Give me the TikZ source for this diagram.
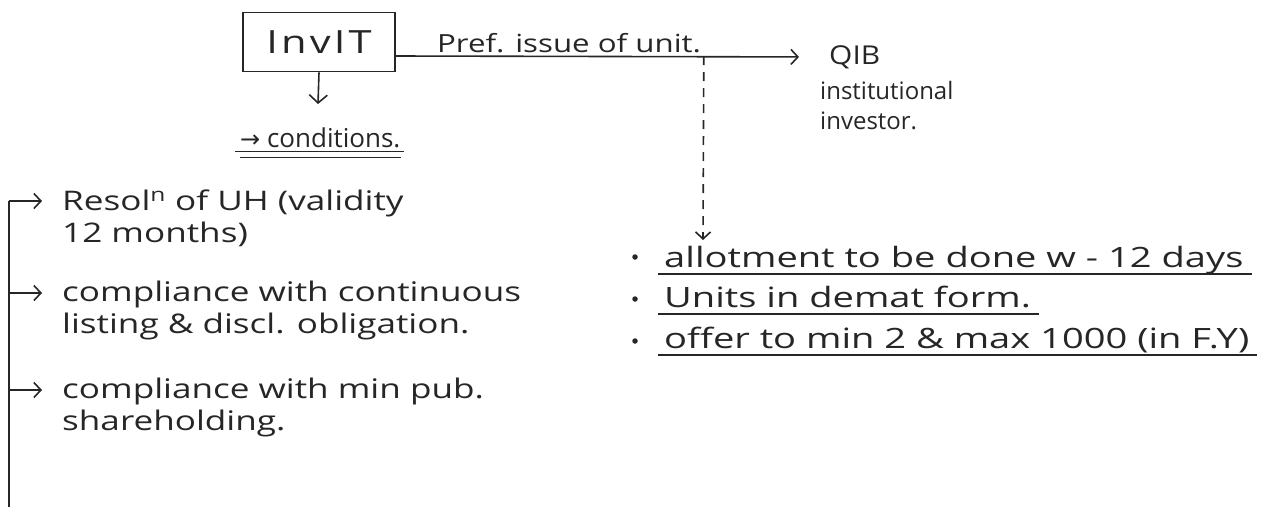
\documentclass[tikz,border=0pt]{standalone}
\usepackage{fontspec}
\setmainfont{Open Sans}
\newfontfamily\symfont{DejaVu Sans}
\newfontfamily\listface[FakeStretch=1.3]{Open Sans}
\newfontfamily\termface[FakeStretch=1.36]{Open Sans}
\newfontfamily\prefface[FakeStretch=1.25]{Open Sans}
\newfontfamily\boxface[FakeStretch=1.3,LetterSpace=10]{Open Sans}
\newfontfamily\qibface[FakeStretch=1.15]{Open Sans}
\usetikzlibrary{arrows.meta}
\begin{document}
\begin{tikzpicture}[x=1pt,y=-1pt,
  ink/.style={line width=1.6pt, draw=black!85},
  arr/.style={ink, -{Straight Barb[length=7pt,width=15pt,line width=1.6pt]}},
  hand/.style={text=black!85, inner sep=0pt},
  listtext/.style={hand, font=\listface\fontsize{27}{32}\selectfont, align=left, anchor=north west},
  termtext/.style={hand, font=\termface\fontsize{28}{32}\selectfont, anchor=base west},
  uline/.style={line width=1.4pt, draw=black!85},
  dot/.style={circle, fill=black!85, inner sep=0pt, minimum size=5.5pt}]

\useasboundingbox (0,0) rectangle (1280,507);

% issuer box and the preferential issue to QIBs
\node[ink, draw, minimum width=152pt, minimum height=59pt, inner sep=0pt, hand,
  font=\boxface\fontsize{32}{34}\selectfont] (invit) at (319,42) {InvIT};
\node[hand, font=\qibface\fontsize{26}{28}\selectfont, anchor=west] (qib) at (829,57) {QIB};
\node[hand, font=\fontsize{24}{30}\selectfont, align=left, anchor=north west] (qibtxt) at (820,81) {institutional\\investor.};
\draw[arr, shorten >=30pt] ([yshift=-14pt]invit.east) -- (qib.west)
  node[hand, font=\prefface\fontsize{25}{28}\selectfont, pos=0.4, above=3pt] (pref) {Pref. issue of unit.};

% conditions below the box
\coordinate (dn) at (318,104);
\draw[ink, -{Straight Barb[length=8pt,width=18pt,line width=1.6pt]}] (invit.south) -- (dn);
\node[hand, font=\fontsize{26}{28}\selectfont, anchor=base west] (cond) at (240,147) {{\symfont\fontsize{24}{26}\selectfont→}\ conditions.};
\draw[uline] ([xshift=-5pt,yshift=-4pt]cond.south west) -- ([xshift=3pt,yshift=-4pt]cond.south east);
\draw[uline] ([yshift=-10pt]cond.south west) -- ([yshift=-10pt]cond.south east);

% list of conditions on a trunk line
\coordinate (trunkbot) at (9,507);
\coordinate (t1) at (9,201);
\coordinate (t2) at (9,293);
\coordinate (t3) at (9,390);
\node[listtext] (i1) at (62,190) {Resol\textsuperscript{n} of UH (validity\\12 months)};
\node[listtext] (i2) at (62,281) {compliance with continuous\\listing \& discl. obligation.};
\node[listtext] (i3) at (62,378) {compliance with min pub.\\shareholding.};
\draw[ink] (trunkbot) -- (t1);
\draw[arr, shorten >=20pt] (t1) -- (i1.west |- t1);
\draw[arr, shorten >=20pt] (t2) -- (i2.west |- t2);
\draw[arr, shorten >=20pt] (t3) -- (i3.west |- t3);

% terms of the preferential issue
\coordinate (dtop) at ([xshift=308pt,yshift=-14pt]invit.east);
\coordinate (dbot) at (703,240);
\draw[arr, dash pattern=on 9pt off 7pt] (dtop) -- (dbot);
\node[termtext] (b1) at (664,267) {allotment to be done w - 12 days};
\node[termtext] (b2) at (664,307) {Units in demat form.};
\node[termtext] (b3) at (664,348) {offer to min 2 \& max 1000 (in F.Y)};
\node[dot] (d1) at (635,257) {};
\node[dot] (d2) at (635,299) {};
\node[dot] (d3) at (635,341) {};
\foreach \b in {b1,b2,b3}
  \draw[uline] ([xshift=-6pt,yshift=-7pt]\b.base west) -- ([xshift=8pt,yshift=-7pt]\b.base east);
\end{tikzpicture}
\end{document}
